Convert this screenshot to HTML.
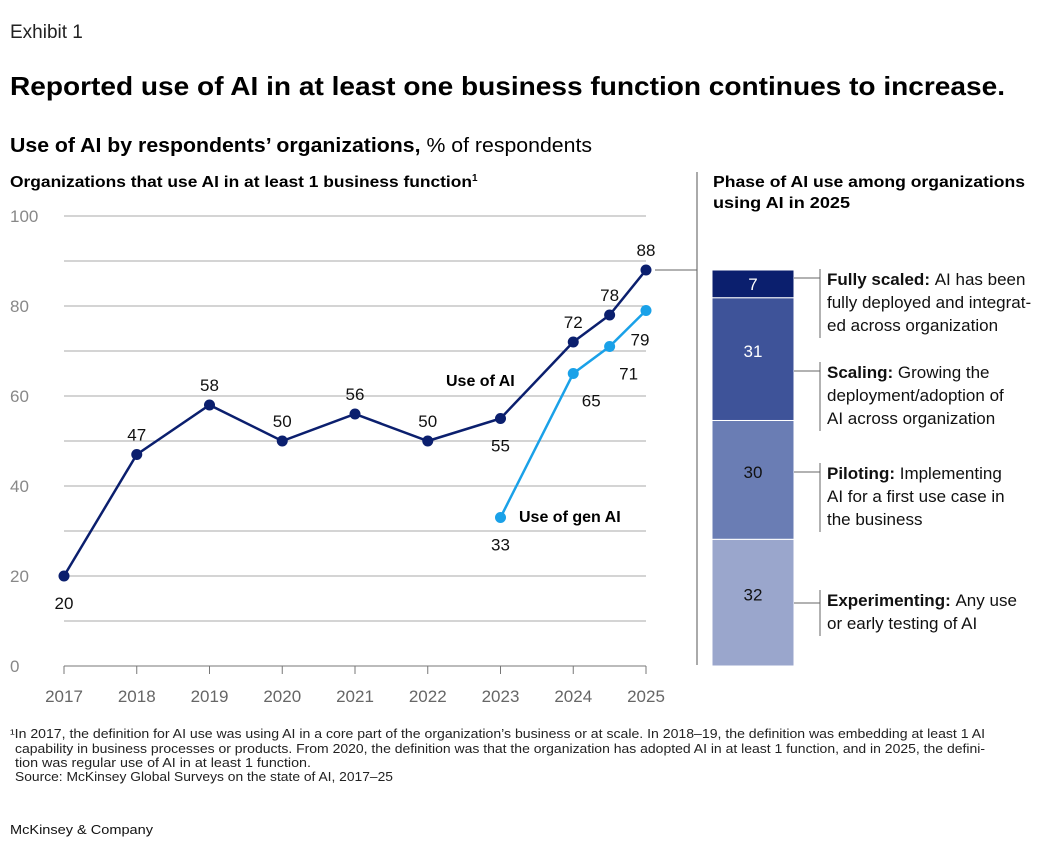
<!DOCTYPE html>
<html><head><meta charset="utf-8"><style>
body{margin:0;background:#fff;font-family:"Liberation Sans",Arial,sans-serif;color:#000}
svg text{font-family:"Liberation Sans",Arial,sans-serif}
</style></head><body>
<svg id="c" width="1044" height="850" viewBox="0 0 1044 850" xmlns="http://www.w3.org/2000/svg">
<text x="10" y="38" font-size="19" fill="#222">Exhibit 1</text>
<text x="10" y="95" font-size="26" font-weight="bold" textLength="995" lengthAdjust="spacingAndGlyphs">Reported use of AI in at least one business function continues to increase.</text>
<text x="10" y="152" font-size="20" textLength="582" lengthAdjust="spacingAndGlyphs"><tspan font-weight="bold">Use of AI by respondents’ organizations,</tspan> % of respondents</text>
<text x="10" y="187" font-size="16" font-weight="bold"><tspan textLength="462" lengthAdjust="spacingAndGlyphs">Organizations that use AI in at least 1 business function</tspan><tspan font-size="10" dy="-6">1</tspan></text>
<text x="713" y="187" font-size="16" font-weight="bold" textLength="312" lengthAdjust="spacingAndGlyphs">Phase of AI use among organizations</text>
<text x="713" y="208" font-size="16" font-weight="bold" textLength="137" lengthAdjust="spacingAndGlyphs">using AI in 2025</text>
<line x1="697" y1="172" x2="697" y2="665" stroke="#555" stroke-width="1"/>
<g id="grid"></g><g id="lines"></g><g id="bars"></g>
<g font-size="12.5" fill="#222">
<text x="10" y="738" textLength="975" lengthAdjust="spacingAndGlyphs">¹In 2017, the definition for AI use was using AI in a core part of the organization’s business or at scale. In 2018–19, the definition was embedding at least 1 AI</text>
<text x="15" y="753" textLength="970" lengthAdjust="spacingAndGlyphs">capability in business processes or products. From 2020, the definition was that the organization has adopted AI in at least 1 function, and in 2025, the defini-</text>
<text x="15" y="767" textLength="296" lengthAdjust="spacingAndGlyphs">tion was regular use of AI in at least 1 function.</text>
<text x="15" y="781" textLength="378" lengthAdjust="spacingAndGlyphs">Source: McKinsey Global Surveys on the state of AI, 2017–25</text>
</g>
<text x="10" y="834" font-size="13" fill="#111" textLength="143" lengthAdjust="spacingAndGlyphs">McKinsey &amp; Company</text>
</svg>
<script>
const years=[2017,2018,2019,2020,2021,2022,2023,2024,2024.5,2025];
const yearTicks=[2017,2018,2019,2020,2021,2022,2023,2024,2025];
const aiValues=[20,47,58,50,56,50,55,72,78,88];
const genYears=[2023,2024,2024.5,2025];
const genValues=[33,65,71,79];
const yTicks=[0,20,40,60,80,100];
const phaseValues=[32,30,31,7];
const phaseLabels=["Experimenting:","Piloting:","Scaling:","Fully scaled:"];
const phaseDesc=[["Any use","or early testing of AI"],["Implementing","AI for a first use case in","the business"],["Growing the","deployment/adoption of","AI across organization"],["AI has been","fully deployed and integrat-","ed across organization"]];
const NS="http://www.w3.org/2000/svg";
const X=v=>64+(v-2017)*72.75, Y=v=>666-v*4.5;
function mk(p,t,a,txt){const e=document.createElementNS(NS,t);for(const k in a)e.setAttribute(k,a[k]);if(txt!=null)e.textContent=txt;p.appendChild(e);return e;}
const grid=document.getElementById('grid');
for(let v=0;v<=100;v+=10){const l=mk(grid,'line',{x1:64,x2:646,y1:Y(v),y2:Y(v),stroke:v==0?'#777':'#aaa','stroke-width':1});

}
yTicks.forEach(v=>{const t=mk(grid,'text',{x:10,y:Y(v)+6,'font-size':17,fill:'#888'},v);

});
yearTicks.forEach(v=>{const l=mk(grid,'line',{x1:X(v),x2:X(v),y1:666,y2:674,stroke:'#777'});


const t=mk(grid,'text',{x:X(v),y:702,'font-size':17,fill:'#666','text-anchor':'middle'},v);

});
const lg=document.getElementById('lines');
function series(xs,vs,color,name,below){
const p=mk(lg,'polyline',{points:xs.map((x,i)=>X(x)+','+Y(vs[i])).join(' '),fill:'none',stroke:color,'stroke-width':2.5});


xs.forEach((x,i)=>{const c=mk(lg,'circle',{cx:X(x),cy:Y(vs[i]),r:5.5,fill:color});


const b=below(i);let dx=0;if(name=='gen-ai'&&i==1)dx=18;if(name=='gen-ai'&&i==2)dx=19;if(name=='gen-ai'&&i==3)dx=-6;
const t=mk(lg,'text',{x:X(x)+dx,y:Y(vs[i])+(b?(name=='gen-ai'&&i==3?35:33):-14),'font-size':17,'text-anchor':'middle',fill:'#111'},vs[i]);

});}
series(years,aiValues,'#0b1f6e','ai',i=>i==0||i==6);
series(genYears,genValues,'#1aa1e8','gen-ai',i=>true);
let t=mk(lg,'text',{x:446,y:386,'font-size':16,'font-weight':'bold'},'Use of AI');

t=mk(lg,'text',{x:519,y:522,'font-size':16,'font-weight':'bold'},'Use of gen AI');

const bars=document.getElementById('bars');
const colors=['#9aa6cc','#6a7db4','#3e5399','#0b1f6e'];
const textCol=['#111','#111','#fff','#fff'];
const total=phaseValues.reduce((a,b)=>a+b,0);
const barBottom=666,barTop=Y(aiValues[aiValues.length-1]),sc=(barBottom-barTop)/total;
let l=mk(bars,'line',{x1:655,x2:697,y1:barTop,y2:barTop,stroke:'#666'});

let acc=0;
phaseValues.forEach((v,i)=>{const y0=barBottom-(acc+v)*sc,h=v*sc;acc+=v;
const r=mk(bars,'rect',{x:712,y:y0,width:82,height:h,fill:colors[i],stroke:'#fff','stroke-width':1});


const tt=mk(bars,'text',{x:753,y:y0+(i==3?h/2+6:h/2-2),'font-size':17,'text-anchor':'middle',fill:textCol[i]},v);


const lines=phaseDesc[i];const lh=23;
const ty=i==3?285:i==2?378:i==1?479:606;
const ln=mk(bars,'line',{x1:794,x2:820,y1:ty-(i==0?3:7),y2:ty-(i==0?3:7),stroke:'#666'});

const vl=mk(bars,'line',{x1:820,x2:820,y1:ty-16,y2:ty-16+lines.length*lh,stroke:'#666'});

lines.forEach((s,k)=>{const te=mk(bars,'text',{x:827,y:ty+k*lh,'font-size':17,fill:'#111'});


if(k==0){mk(te,'tspan',{'font-weight':'bold'},phaseLabels[i]+' ');mk(te,'tspan',{},s);}else te.textContent=s;});});
</script>
</body></html>
